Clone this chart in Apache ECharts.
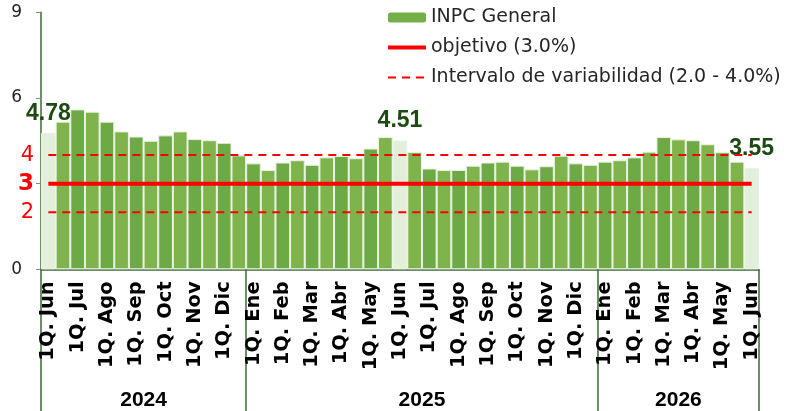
<!DOCTYPE html>
<html>
<head>
<meta charset="utf-8">
<script src="https://cdn.jsdelivr.net/npm/echarts@6/dist/echarts.min.js"></script>
<style>
html,body{margin:0;padding:0;background:#fff;}
#c{width:786px;height:411px;}
</style>
</head>
<body>
<div id="c"></div>
<script>
// ---- data ----
const categories = [
  '1Q. Jun','2Q. Jun','1Q. Jul','2Q. Jul','1Q. Ago','2Q. Ago','1Q. Sep','2Q. Sep','1Q. Oct','2Q. Oct','1Q. Nov','2Q. Nov','1Q. Dic','2Q. Dic',
  '1Q. Ene','2Q. Ene','1Q. Feb','2Q. Feb','1Q. Mar','2Q. Mar','1Q. Abr','2Q. Abr','1Q. May','2Q. May','1Q. Jun','2Q. Jun',
  '1Q. Jul','2Q. Jul','1Q. Ago','2Q. Ago','1Q. Sep','2Q. Sep','1Q. Oct','2Q. Oct','1Q. Nov','2Q. Nov','1Q. Dic','2Q. Dic',
  '1Q. Ene','2Q. Ene','1Q. Feb','2Q. Feb','1Q. Mar','2Q. Mar','1Q. Abr','2Q. Abr','1Q. May','2Q. May','1Q. Jun'
];
const inpc = [
  4.78, 5.17, 5.60, 5.52, 5.17, 4.83, 4.65, 4.50, 4.69, 4.83, 4.56, 4.52, 4.43, 3.99,
  3.71, 3.48, 3.74, 3.82, 3.66, 3.92, 3.97, 3.89, 4.23, 4.63, 4.51, 4.11,
  3.53, 3.48, 3.48, 3.63, 3.74, 3.77, 3.63, 3.50, 3.61, 3.98, 3.71, 3.66,
  3.77, 3.82, 3.92, 4.12, 4.63, 4.55, 4.52, 4.38, 4.10, 3.77, 3.55
];
const years = ['2024', '2025', '2026'];
const periodsPerYear = [14, 24, 11];
const target = 3.0;
const bandLow = 2.0;
const bandHigh = 4.0;
const yTickValues = [0, 3, 6, 9];
const yLabelsBlack = [0, 6, 9];
const yLabelsRed = [2, 3, 4];
const legendNames = ['INPC General', 'objetivo (3.0%)', 'Intervalo de variabilidad (2.0 - 4.0%)'];

// ---- derived ----
const boundaries = [0];
periodsPerYear.forEach(n => boundaries.push(boundaries[boundaries.length - 1] + n));
const yearCenters = periodsPerYear.map((n, i) => boundaries[i] + n / 2);

const GREEN_DARK = '#6DAA45';
const GREEN_LIGHT = '#7FB34B';
const PALE = '#E2EFDA';
const AXIS = '#3B6A35';

const barData = inpc.map((v, i) => {
  const cat = categories[i];
  const highlight = cat === '1Q. Jun';
  const item = {
    value: v,
    itemStyle: { color: highlight ? PALE : (cat.startsWith('1Q') ? GREEN_DARK : GREEN_LIGHT) }
  };
  if (highlight) {
    item.label = {
      show: true, position: 'top', distance: 8,
      formatter: p => p.value.toFixed(2),
      fontFamily: 'Liberation Sans', fontWeight: 'bold', fontSize: 23, color: '#1B4A12'
    };
  }
  return item;
});

const chart = echarts.init(document.getElementById('c'), null, { renderer: 'canvas' });
chart.setOption({
  animation: false,
  backgroundColor: '#fff',
  textStyle: { fontFamily: 'DejaVu Sans' },
  grid: { left: 41, right: 27, top: 12.3, bottom: 141.7 },
  legend: {
    orient: 'vertical', left: 381, top: 3,
    itemWidth: 38, itemHeight: 10, itemGap: 11,
    selectedMode: false,
    textStyle: { fontFamily: 'DejaVu Sans', fontSize: 19, color: '#262626' },
    data: [
      { name: legendNames[0], itemStyle: { color: '#74AE48', borderWidth: 0 } },
      { name: legendNames[1], itemStyle: { opacity: 0 }, lineStyle: { width: 4, color: '#FF0000' } },
      { name: legendNames[2], itemStyle: { opacity: 0 }, lineStyle: { width: 2, color: '#FF0000', type: [8, 6] } }
    ]
  },
  xAxis: [
    {
      type: 'category', data: categories, boundaryGap: true,
      axisLine: { show: true, lineStyle: { color: AXIS, width: 1.5 } },
      axisTick: { show: false },
      axisLabel: {
        interval: (i, v) => v.startsWith('1Q'),
        rotate: 90, margin: 12,
        fontFamily: 'DejaVu Sans', fontWeight: 'bold', fontSize: 19.5, color: '#000'
      },
      splitLine: { show: false }
    },
    {
      type: 'value', min: 0, max: categories.length, position: 'bottom',
      axisLine: { show: false },
      splitLine: { show: false },
      axisTick: { show: true, customValues: boundaries, length: 145, lineStyle: { color: AXIS, width: 1.5 } },
      axisLabel: {
        customValues: yearCenters, margin: 120,
        formatter: v => years[yearCenters.indexOf(v)] || '',
        fontFamily: 'Liberation Sans', fontWeight: 'bold', fontSize: 21, color: '#000'
      }
    }
  ],
  yAxis: [
    {
      type: 'value', min: 0, max: 9, interval: 3,
      axisLine: { show: true, lineStyle: { color: AXIS, width: 1.5 } },
      axisTick: { show: true, customValues: yTickValues, length: 5, lineStyle: { color: '#7F8F7A', width: 1 } },
      axisLabel: {
        customValues: yLabelsBlack, margin: 19,
        fontFamily: 'DejaVu Sans', fontSize: 17, color: '#222'
      },
      splitLine: { show: false }
    },
    {
      type: 'value', min: 0, max: 9, position: 'left',
      axisLine: { show: false }, axisTick: { show: false }, splitLine: { show: false },
      axisLabel: {
        customValues: yLabelsRed, margin: 7,
        formatter: v => v === target ? '{b|' + v + '}' : '{n|' + v + '}',
        rich: {
          b: { fontFamily: 'DejaVu Sans', fontWeight: 'bold', fontSize: 23, color: '#FF0000' },
          n: { fontFamily: 'DejaVu Sans', fontSize: 21, color: '#FF0000' }
        }
      }
    }
  ],
  series: [
    {
      name: legendNames[0], type: 'bar', data: barData,
      barCategoryGap: '0%', barGap: '0%',
      itemStyle: { color: '#74AE48', borderColor: '#EAF2E4', borderWidth: 1 },
      z: 2
    },
    {
      name: legendNames[1], type: 'line', data: categories.map(() => target),
      symbol: 'none', lineStyle: { color: '#FF0000', width: 4 }, itemStyle: { color: '#FF0000' }, z: 5
    },
    {
      name: legendNames[2], type: 'line', data: categories.map(() => bandHigh),
      symbol: 'none', lineStyle: { color: '#FF0000', width: 2, type: [8, 6] }, itemStyle: { color: '#FF0000' }, z: 5
    },
    {
      name: legendNames[2], type: 'line', data: categories.map(() => bandLow),
      symbol: 'none', lineStyle: { color: '#FF0000', width: 2, type: [8, 6] }, itemStyle: { color: '#FF0000' }, z: 5
    }
  ]
});
</script>
</body>
</html>
